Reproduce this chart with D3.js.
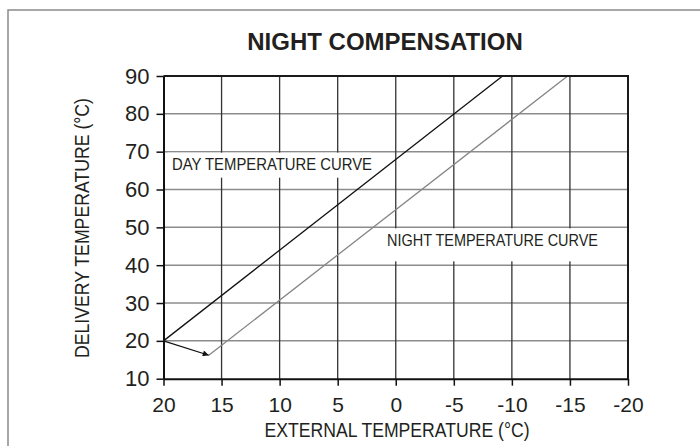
<!DOCTYPE html>
<html>
<head>
<meta charset="utf-8">
<script src="https://cdn.jsdelivr.net/npm/d3@7"></script>
<style>
  body { margin: 0; background: #fff; }
  text { font-family: "Liberation Sans", Arial, Helvetica, sans-serif; fill: #231f20; }
</style>
</head>
<body>
<svg width="700" height="446"></svg>
<script>
// ---- Data ----
const xTicks = [20, 15, 10, 5, 0, -5, -10, -15, -20];
const yTicks = [10, 20, 30, 40, 50, 60, 70, 80, 90];
// day curve: external temp -> delivery temp
const dayExt = [20, -9.2];
const dayDel = [20, 90];
// night curve (shifted down)
const nightExt = [16.1, -14.8];
const nightDel = [16.2, 90];
// arrow from day start to night start
const arrowExt = [20, 16.1];
const arrowDel = [20, 16.2];

const svg = d3.select("svg");

// outer frame (cut off at right and bottom)
svg.append("rect")
    .attr("x", 8).attr("y", 10)
    .attr("width", 710).attr("height", 460)
    .attr("fill", "none")
    .attr("stroke", "#8a8a8a")
    .attr("stroke-width", 1.5);

const x = d3.scaleLinear().domain([20, -20]).range([163.5, 628]);
const y = d3.scaleLinear().domain([10, 90]).range([378.7, 76]);

// ---- Grid ----
const grid = svg.append("g");
grid.selectAll("line.h")
    .data(yTicks.slice(1))
    .join("line")
    .attr("x1", x(20)).attr("x2", x(-20))
    .attr("y1", d => y(d)).attr("y2", d => y(d))
    .attr("stroke", "#8c8c8c")
    .attr("stroke-width", 1.5);
grid.selectAll("line.v")
    .data(xTicks.slice(1))
    .join("line")
    .attr("y1", y(10)).attr("y2", y(90))
    .attr("x1", d => x(d)).attr("x2", d => x(d))
    .attr("stroke", "#333")
    .attr("stroke-width", 1.3);

// white boxes behind the curve labels (they hide the grid)
svg.append("rect")
    .attr("x", 168).attr("y", y(70) + 1)
    .attr("width", 203).attr("height", 25)
    .attr("fill", "#fff");
svg.append("rect")
    .attr("x", 382).attr("y", y(50) + 1)
    .attr("width", 224).attr("height", 33)
    .attr("fill", "#fff");

// ---- Curves ----
const line = d3.line().x(d => x(d[0])).y(d => y(d[1]));

svg.append("path")
    .datum(d3.zip(dayExt, dayDel))
    .attr("d", line)
    .attr("fill", "none")
    .attr("stroke", "#111")
    .attr("stroke-width", 1.3);

svg.append("path")
    .datum(d3.zip(nightExt, nightDel))
    .attr("d", line)
    .attr("fill", "none")
    .attr("stroke", "#858585")
    .attr("stroke-width", 1.3);

svg.append("defs").append("marker")
    .attr("id", "arrow")
    .attr("viewBox", "0 0 10 10")
    .attr("refX", 10).attr("refY", 5)
    .attr("markerWidth", 9).attr("markerHeight", 6)
    .attr("markerUnits", "userSpaceOnUse")
    .attr("orient", "auto")
    .append("path")
    .attr("d", "M0,0 L10,5 L0,10 z")
    .attr("fill", "#111");

svg.append("path")
    .datum(d3.zip(arrowExt, arrowDel))
    .attr("d", line)
    .attr("fill", "none")
    .attr("stroke", "#111")
    .attr("stroke-width", 1.2)
    .attr("marker-end", "url(#arrow)");

// ---- Plot border ----
svg.append("path")
    .attr("d", `M${x(20)},${y(90)} H${x(-20)} V${y(10)}`)
    .attr("fill", "none")
    .attr("stroke", "#1a1a1a")
    .attr("stroke-width", 2);

// ---- Axes ----
const xAxis = svg.append("g")
    .attr("transform", `translate(0,${y(10)})`)
    .call(d3.axisBottom(x).tickValues(xTicks).tickFormat(d => String(d))
        .tickSize(7).tickPadding(11).tickSizeOuter(0));
xAxis.selectAll("text").style("font-size", "21px");

const yAxis = svg.append("g")
    .attr("transform", `translate(${x(20)},0)`)
    .call(d3.axisLeft(y).tickValues(yTicks).tickFormat(d => String(d))
        .tickSize(7).tickPadding(7).tickSizeOuter(0));
yAxis.selectAll("text").style("font-size", "22px");

[xAxis, yAxis].forEach(a => {
    a.select(".domain").attr("stroke", "#111").attr("stroke-width", 2);
    a.selectAll(".tick line").attr("stroke", "#111").attr("stroke-width", 1.5);
    a.selectAll("text").attr("fill", "#231f20");
});

// ---- Texts ----
svg.append("text")
    .attr("x", 385).attr("y", 50)
    .attr("text-anchor", "middle")
    .style("font-size", "24px")
    .style("font-weight", "bold")
    .text("NIGHT COMPENSATION");

svg.append("text")
    .attr("x", 397).attr("y", 437)
    .attr("text-anchor", "middle")
    .attr("textLength", 265)
    .attr("lengthAdjust", "spacingAndGlyphs")
    .style("font-size", "20px")
    .text("EXTERNAL TEMPERATURE (°C)");

svg.append("text")
    .attr("transform", "translate(89,228) rotate(-90)")
    .attr("text-anchor", "middle")
    .attr("textLength", 260)
    .attr("lengthAdjust", "spacingAndGlyphs")
    .style("font-size", "20px")
    .text("DELIVERY TEMPERATURE (°C)");

svg.append("text")
    .attr("x", 172).attr("y", 170)
    .attr("textLength", 200)
    .attr("lengthAdjust", "spacingAndGlyphs")
    .style("font-size", "17px")
    .text("DAY TEMPERATURE CURVE");

svg.append("text")
    .attr("x", 387).attr("y", 246)
    .attr("textLength", 211)
    .attr("lengthAdjust", "spacingAndGlyphs")
    .style("font-size", "17px")
    .text("NIGHT TEMPERATURE CURVE");
</script>
</body>
</html>
